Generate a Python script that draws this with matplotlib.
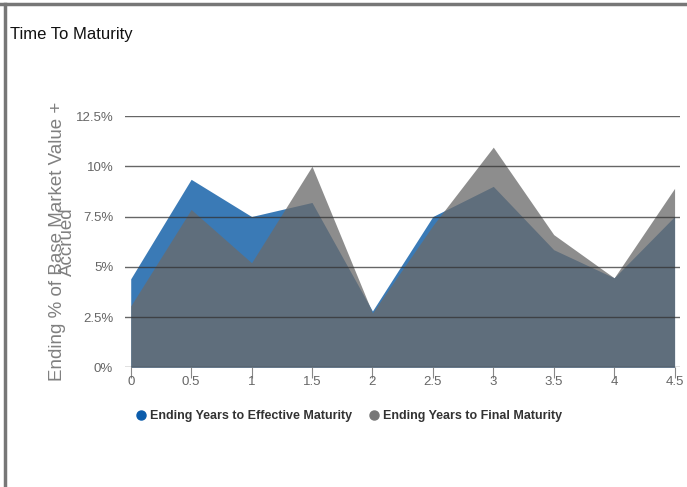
import matplotlib.pyplot as plt
from matplotlib.lines import Line2D

plt.rcParams['font.family'] = ['Liberation Sans', 'DejaVu Sans']

years = [0, 0.5, 1, 1.5, 2, 2.5, 3, 3.5, 4, 4.5]
effective = [4.4, 9.35, 7.5, 8.2, 2.8, 7.5, 9.0, 5.85, 4.45, 7.5]
final = [3.05, 7.85, 5.2, 10.0, 2.7, 7.05, 10.95, 6.6, 4.45, 8.9]
y_ticks = [0, 2.5, 5, 7.5, 10, 12.5]
y_labels = ['0%', '2.5%', '5%', '7.5%', '10%', '12.5%']
x_labels = ['0', '0.5', '1', '1.5', '2', '2.5', '3', '3.5', '4', '4.5']
series_names = ['Ending Years to Effective Maturity', 'Ending Years to Final Maturity']

fig = plt.figure(figsize=(6.87, 4.87), dpi=100)
ax = fig.add_axes([0.182, 0.2458, 0.808, 0.516])

ax.fill_between(years, 0, effective, color='#3a7ab6', lw=0, zorder=1)
ax.fill_between(years, 0, final, color='#6b6b6b', alpha=0.77, lw=0, zorder=2)

for t in y_ticks:
    ax.axhline(t, color='#333333', lw=1, alpha=0.75, zorder=3)

ax.set_xlim(-0.047, 4.546)
ax.set_ylim(0, 12.5)
ax.set_yticks(y_ticks)
ax.set_yticklabels(y_labels)
ax.set_xticks(years)
ax.set_xticklabels(x_labels)
ax.tick_params(axis='y', length=0, pad=8.5, labelsize=9.5, labelcolor='#666666')
ax.tick_params(axis='x', length=8, width=0.8, color='#888888', direction='out',
               pad=-2, labelsize=9.5, labelcolor='#666666')
for s in ax.spines.values():
    s.set_visible(False)

ax.set_ylabel('Ending % of Base Market Value +\nAccrued', fontsize=13.5,
              color='#808080', linespacing=0.5)
ax.yaxis.set_label_coords(-0.088, 0.5)

fig.text(0.014, 0.93, 'Time To Maturity', fontsize=12, color='#111111', va='center')

# frame lines top and left
fig.add_artist(Line2D([0, 1], [0.992, 0.992], color='#777777', lw=2.5, transform=fig.transFigure))
fig.add_artist(Line2D([0.007, 0.007], [0, 0.992], color='#777777', lw=2.5, transform=fig.transFigure))

handles = [Line2D([], [], marker='o', ls='', color='#0b5cab', markersize=6.5),
           Line2D([], [], marker='o', ls='', color='#777777', markersize=6.5)]
leg = ax.legend(handles, series_names, loc='center', bbox_to_anchor=(0.507, 0.146),
                bbox_transform=fig.transFigure, ncol=2, frameon=False,
                handletextpad=0.25, columnspacing=1.2, handlelength=1.0,
                prop={'weight': 'bold', 'size': 9})
for txt in leg.get_texts():
    txt.set_color('#333333')

fig.savefig('out.png', dpi=100)
